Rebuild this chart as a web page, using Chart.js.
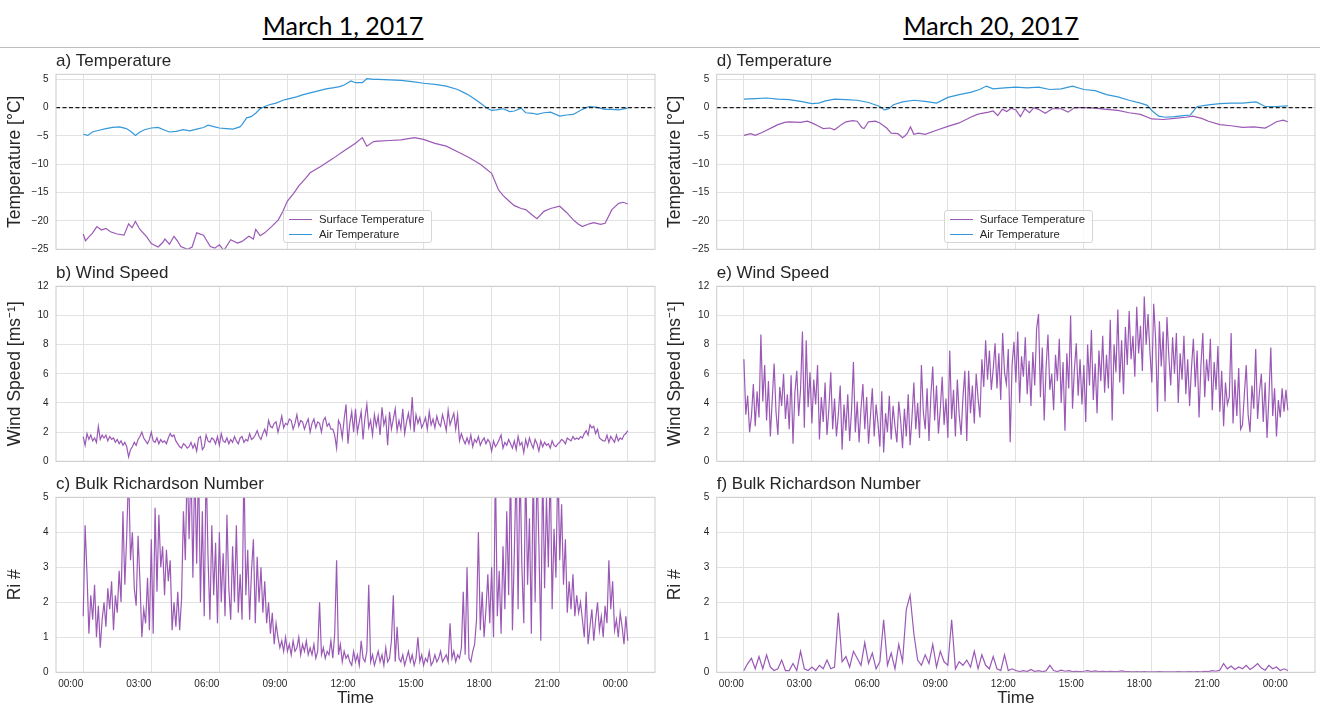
<!DOCTYPE html>
<html>
<head>
<meta charset="utf-8">
<script src="https://cdn.jsdelivr.net/npm/chart.js@4.4.1/dist/chart.umd.min.js"></script>
<style>
  body { margin: 0; background: #fff; width: 1320px; height: 714px; position: relative; overflow: hidden; }
  .head { position: absolute; top: 13px; width: 400px; text-align: center; font-family: Lato, "Open Sans", sans-serif;
          font-size: 25px; line-height: 25px; color: #000; text-decoration: underline; text-decoration-thickness: 1.5px; text-underline-offset: 3px; }
  .rule { position: absolute; left: 0; top: 47px; width: 1320px; border-top: 1px solid #bdbdbd; }
  .panel { position: absolute; width: 660px; }
  .legend { position: absolute; width: 147px; height: 31px; border: 1px solid #d6d6d6; border-radius: 3px;
            background: rgba(255,255,255,0.8); font-family: "Liberation Sans", Arial, sans-serif; font-size: 11.3px; color: #262626; z-index: 5; }
  .legend .item { position: absolute; left: 35px; line-height: 13px; white-space: nowrap; }
  .legend .swatch { position: absolute; left: -30px; top: 6px; width: 23px; border-top: 1.5px solid; }
</style>
</head>
<body>
<div class="head" style="left:143px">March 1, 2017</div>
<div class="head" style="left:791px">March 20, 2017</div>
<div class="rule"></div>

<div class="panel" style="left:0;top:48px;height:215.3px"><canvas id="pa"></canvas></div>
<div class="panel" style="left:0;top:259.5px;height:215.3px"><canvas id="pb"></canvas></div>
<div class="panel" style="left:0;top:471px;height:243px"><canvas id="pc"></canvas></div>
<div class="panel" style="left:660px;top:48px;height:215.3px"><canvas id="pd"></canvas></div>
<div class="panel" style="left:660px;top:259.5px;height:215.3px"><canvas id="pe"></canvas></div>
<div class="panel" style="left:660px;top:471px;height:243px"><canvas id="pf"></canvas></div>

<div class="legend" style="left:283px;top:210px">
  <div class="item" style="top:1.8px"><span class="swatch" style="border-color:#9b59b6"></span>Surface Temperature</div>
  <div class="item" style="top:16.8px"><span class="swatch" style="border-color:#3498db"></span>Air Temperature</div>
</div>
<div class="legend" style="left:943.7px;top:210px">
  <div class="item" style="top:1.8px"><span class="swatch" style="border-color:#9b59b6"></span>Surface Temperature</div>
  <div class="item" style="top:16.8px"><span class="swatch" style="border-color:#3498db"></span>Air Temperature</div>
</div>

<script>
// axis ticks (hours since midnight)
const tickHours = [0, 3, 6, 9, 12, 15, 18, 21, 24];
const tickLabels = ['00:00', '03:00', '06:00', '09:00', '12:00', '15:00', '18:00', '21:00', '00:00'];
const tempTicks = [-25, -20, -15, -10, -5, 0, 5];
const windTicks = [0, 2, 4, 6, 8, 10, 12];
const riTicks = [0, 1, 2, 3, 4, 5];

// March 1 temperatures
const surfMar1Hours = [0,0.1,0.25,0.4,0.6,0.8,1.0,1.2,1.5,1.8,2.0,2.15,2.3,2.5,2.8,3.0,3.3,3.5,3.6,3.8,4.0,4.15,4.3,4.6,4.8,5.0,5.3,5.6,5.8,6.0,6.2,6.5,6.8,7.0,7.3,7.5,7.6,7.8,8.0,8.3,8.6,8.8,9.0,9.3,9.5,9.8,10.0,10.5,11.0,11.5,12.0,12.3,12.5,12.8,13.0,13.5,14.0,14.6,15.0,15.5,16.0,16.5,17.0,17.5,18.0,18.3,18.5,18.8,19.0,19.3,19.5,19.8,20.0,20.3,20.6,21.0,21.3,21.6,21.8,22.0,22.3,22.5,22.8,23.0,23.3,23.6,23.8,24.0];
const surfMar1 = [-22.3,-23.5,-22.8,-22.2,-21.0,-21.6,-21.3,-21.9,-22.3,-22.5,-20.5,-21.2,-20.1,-21.5,-22.8,-24.0,-24.6,-23.8,-23.2,-24.1,-22.7,-23.5,-24.5,-25.0,-24.6,-22.1,-22.5,-24.5,-24.8,-24.2,-25.2,-23.3,-23.9,-23.6,-22.7,-23.2,-21.5,-22.6,-22.1,-21.0,-19.8,-18.3,-16.5,-15.0,-13.8,-12.5,-11.5,-10.3,-9.0,-7.6,-6.3,-5.3,-6.8,-6.0,-5.9,-5.8,-5.7,-5.3,-5.6,-6.3,-6.8,-7.8,-8.8,-10.0,-11.6,-14.5,-15.5,-16.6,-17.3,-17.8,-18.0,-19.0,-19.6,-18.3,-17.8,-17.4,-18.5,-19.8,-20.5,-21.0,-20.5,-20.3,-20.6,-20.4,-18.0,-16.9,-16.7,-17.0];
const airMar1Hours = [0,0.2,0.4,0.7,1.0,1.3,1.6,1.9,2.1,2.3,2.5,2.7,3.0,3.3,3.6,3.8,4.1,4.4,4.7,5.0,5.3,5.5,5.8,6.0,6.3,6.6,6.9,7.0,7.2,7.4,7.6,7.8,8.0,8.2,8.5,8.8,9.0,9.4,9.7,10.0,10.4,10.7,11.0,11.3,11.5,11.8,12.0,12.3,12.5,12.8,13.0,13.5,14.0,14.5,15.0,15.5,16.0,16.5,16.8,17.0,17.3,17.5,17.8,18.0,18.2,18.5,18.8,19.0,19.3,19.5,19.8,20.0,20.3,20.6,21.0,21.3,21.6,22.0,22.3,22.6,23.0,23.3,23.6,24.0];
const airMar1 = [-4.7,-4.9,-4.3,-4.0,-3.7,-3.5,-3.4,-3.7,-4.2,-4.9,-4.3,-3.9,-3.6,-3.5,-4.0,-4.3,-4.2,-3.9,-4.1,-3.8,-3.5,-3.1,-3.4,-3.6,-3.7,-3.8,-3.4,-3.0,-1.8,-1.6,-1.0,-0.2,0.2,0.5,0.8,1.3,1.5,1.9,2.3,2.6,3.0,3.3,3.5,3.7,4.0,4.7,4.4,4.4,5.1,5.0,5.0,4.9,4.8,4.6,4.3,4.1,3.8,3.2,2.6,2.2,1.4,0.8,-0.1,-0.5,-0.4,-0.2,-0.7,-0.6,-0.1,-0.9,-1.0,-1.2,-0.9,-0.8,-1.5,-1.3,-1.2,-0.3,0.2,0.1,-0.3,-0.3,-0.4,-0.1];

// March 20 temperatures
const surfMar20Hours = [0,0.3,0.5,0.8,1.0,1.3,1.5,1.8,2.0,2.5,2.8,3.0,3.3,3.5,3.8,4.0,4.3,4.5,4.8,5.0,5.2,5.3,5.5,5.8,6.0,6.3,6.5,6.8,7.0,7.1,7.2,7.35,7.5,7.7,8.0,8.5,9.0,9.5,10.0,10.3,10.5,10.8,11.0,11.2,11.4,11.6,11.8,12.0,12.2,12.4,12.6,12.8,13.0,13.3,13.6,14.0,14.3,14.6,15.0,15.5,16.0,16.5,17.0,17.5,18.0,18.5,19.0,19.5,19.8,20.2,20.5,21.0,21.5,22.0,22.5,23.0,23.2,23.5,23.8,24.0];
const surfMar20 = [-4.9,-4.6,-4.9,-4.4,-4.0,-3.4,-3.0,-2.6,-2.5,-2.6,-2.4,-2.7,-3.3,-3.7,-3.6,-3.9,-3.0,-2.5,-2.3,-2.4,-3.5,-3.7,-2.5,-2.4,-2.7,-3.6,-4.5,-4.6,-5.3,-5.0,-4.6,-3.4,-4.7,-4.5,-4.7,-4.0,-3.3,-2.7,-1.7,-1.2,-1.0,-0.8,-0.6,-1.4,-0.3,-0.7,-0.1,-0.4,-1.6,-0.2,-0.9,0.0,-0.3,-1.0,-0.2,-0.2,-0.8,0.0,0.0,-0.1,-0.3,-0.5,-0.9,-1.2,-2.0,-2.1,-1.9,-1.7,-1.5,-1.9,-2.4,-3.0,-3.2,-3.5,-3.4,-3.6,-3.2,-2.5,-2.2,-2.5];
const airMar20Hours = [0,0.5,1.0,1.5,2.0,2.5,3.0,3.3,3.6,4.0,4.5,5.0,5.5,6.0,6.2,6.4,6.6,7.0,7.5,8.0,8.5,9.0,9.5,10.0,10.4,10.7,11.0,11.5,12.0,12.5,13.0,13.5,14.0,14.5,15.0,15.5,16.0,16.5,17.0,17.5,17.8,18.0,18.3,18.6,19.0,19.4,19.7,20.0,20.5,21.0,21.5,22.0,22.6,23.0,23.5,24.0];
const airMar20 = [1.5,1.6,1.7,1.5,1.4,1.1,0.7,0.8,1.2,1.5,1.4,1.3,0.9,0.2,-0.4,-0.2,0.5,1.0,1.3,1.1,0.8,1.8,2.3,2.7,3.2,3.8,3.3,3.5,3.6,3.5,3.6,3.2,3.3,3.8,3.2,3.0,2.3,1.9,1.3,0.8,0.4,-0.5,-1.5,-1.7,-1.6,-1.4,-1.3,0.2,0.5,0.7,0.8,0.8,1.0,0.2,0.2,0.3];

// wind speed, March 1 (5-min samples)
const windMar1 = [
  1.7,1.1,1.9,1.5,1.8,1.4,1.6,1.3,2.4,1.5,1.8,1.6,
  1.8,1.4,1.7,1.5,1.6,1.3,1.5,1.2,1.4,1.1,1.3,1.0,
  0.3,0.8,1.0,1.3,1.1,1.5,1.7,2.0,1.6,1.4,1.2,1.5,
  2.0,1.4,1.3,1.6,1.2,1.5,1.3,1.4,1.2,1.6,1.9,1.7,
  1.8,1.4,1.2,1.0,0.9,1.2,1.1,0.9,1.0,1.3,0.9,1.2,
  0.7,1.6,1.7,0.8,1.0,1.8,1.4,1.3,1.6,1.5,1.2,1.7,
  1.1,1.9,1.4,1.3,1.6,1.2,1.5,1.3,1.7,1.4,1.2,1.6,
  1.7,1.3,1.5,1.4,1.9,1.5,1.6,1.8,2.1,1.7,1.5,1.9,
  2.2,1.8,2.8,2.4,2.3,2.6,2.7,2.0,2.5,3.1,2.3,2.6,
  2.5,2.9,2.8,2.2,2.6,3.2,2.4,2.8,2.7,2.2,2.6,2.9,
  2.0,2.6,2.9,2.3,2.7,2.6,2.0,2.8,3.0,2.4,2.6,2.2,
  2.2,1.8,0.9,2.8,2.5,1.6,2.9,3.9,1.2,2.6,3.4,2.0,
  3.6,2.0,2.7,3.4,1.5,3.0,3.9,2.3,2.8,1.8,3.2,2.4,
  3.1,1.8,3.7,2.5,3.0,1.1,3.4,2.2,2.9,3.6,2.1,2.8,
  2.2,3.6,1.9,2.7,3.3,2.4,4.4,2.0,3.2,2.6,3.0,2.3,
  2.6,3.0,2.2,3.4,2.5,2.9,2.3,3.1,2.6,2.4,3.2,2.7,
  2.1,3.5,2.5,2.9,3.3,2.2,3.2,1.4,1.9,1.5,1.2,1.6,
  1.2,1.8,1.0,1.5,1.3,1.7,1.1,1.4,1.6,1.2,1.5,1.3,
  0.7,1.4,1.0,1.2,1.5,1.8,0.9,1.3,1.1,1.5,1.2,0.9,
  1.4,0.8,1.7,1.1,1.3,0.6,1.5,1.0,1.6,1.2,0.9,1.5,
  1.2,0.7,1.4,1.0,1.3,1.1,1.2,0.9,1.4,1.1,1.0,1.2,
  1.3,1.5,1.4,1.2,1.6,1.5,1.4,1.7,1.5,1.6,1.5,1.7,
  1.6,1.9,2.1,1.8,2.5,2.3,2.4,1.9,2.2,1.6,1.5,1.4,
  1.4,1.8,1.3,1.7,1.5,1.3,1.8,1.4,1.6,1.5,1.8,1.9,
  2.1];

// wind speed, March 20 (5-min samples)
const windMar20 = [
  7.0,3.2,4.5,2.0,3.1,5.3,2.4,4.8,3.0,8.7,4.1,6.6,
  2.8,5.5,1.7,4.2,6.7,3.4,1.8,5.1,3.8,6.0,2.9,4.6,
  2.2,5.9,1.2,4.7,6.2,3.1,4.9,8.9,2.3,8.3,3.7,6.1,
  2.6,5.6,3.9,6.6,1.5,4.4,2.7,5.4,1.8,3.6,6.1,2.2,
  4.3,1.7,3.2,5.2,0.8,3.9,2.1,4.6,1.4,3.5,6.8,2.0,
  4.1,1.3,3.6,5.3,2.2,4.4,1.2,3.1,5.0,1.7,3.9,2.6,
  1.0,4.8,0.6,3.3,2.0,4.5,1.5,3.8,2.4,1.3,4.1,2.8,
  0.9,3.6,1.7,4.6,1.1,3.0,5.4,2.2,4.0,1.6,6.6,3.4,
  2.2,5.0,1.4,4.5,6.5,2.8,5.2,1.9,3.6,5.8,2.5,4.3,
  1.6,7.6,2.9,4.9,1.7,5.6,3.2,1.8,4.4,6.2,1.4,6.2,
  3.3,5.2,2.6,6.0,4.3,3.0,7.0,5.1,8.3,5.6,7.6,4.9,
  6.3,8.1,5.0,7.4,4.2,8.8,6.1,5.3,7.7,1.3,6.6,8.2,
  5.4,8.9,4.0,7.2,5.8,8.5,4.6,6.9,3.8,7.5,5.2,9.1,
  10.1,4.4,7.8,2.8,6.4,8.7,4.9,6.0,3.5,7.3,5.5,8.4,
  4.0,6.8,2.1,7.4,5.0,10.0,3.6,6.3,8.1,4.5,7.0,3.9,
  6.6,2.7,8.0,5.2,9.0,4.2,6.7,3.3,7.6,5.5,8.6,4.7,
  7.3,5.0,9.7,2.8,8.0,6.1,10.4,5.4,8.3,4.6,9.2,6.6,
  10.3,7.0,8.6,5.8,10.6,7.4,9.3,6.2,11.3,8.0,10.1,7.5,
  5.4,10.8,8.4,3.4,9.6,6.5,8.9,4.1,9.9,7.2,5.2,8.5,
  6.0,8.8,4.0,7.4,5.6,8.6,4.6,7.0,3.8,6.4,8.4,5.1,
  7.6,3.0,6.6,8.8,4.4,7.0,5.5,8.4,3.5,6.8,4.9,7.9,
  3.4,6.2,2.4,5.4,3.9,4.4,8.8,2.6,5.6,3.1,6.4,2.2,
  2.5,4.6,6.6,3.2,2.0,5.2,3.6,7.7,2.9,4.8,6.0,2.7,
  5.4,1.6,4.4,7.8,3.1,5.0,1.7,4.2,3.0,5.0,3.4,4.9,
  3.5];

// bulk Richardson number, March 1 (5-min samples, values above 5 run off the top)
const riMar1 = [
  1.6,4.2,2.8,1.1,2.2,1.5,2.5,1.0,1.9,0.7,1.5,2.0,
  1.3,2.4,1.8,2.6,1.2,2.2,1.7,2.9,2.0,4.6,2.5,3.9,
  5.8,3.2,4.0,2.4,1.9,3.9,2.6,1.0,1.8,1.4,2.7,1.2,
  3.8,1.1,4.7,2.3,4.5,3.0,3.6,2.2,3.5,2.6,3.2,1.2,
  2.0,1.3,2.3,1.2,2.1,4.6,3.2,6.0,3.8,6.0,2.7,6.0,
  3.1,6.0,2.0,4.6,1.6,6.0,3.3,1.5,4.2,2.2,3.7,1.4,
  4.0,2.0,3.4,1.6,4.5,2.4,1.5,3.6,2.0,4.2,1.7,2.8,
  1.5,6.0,2.2,3.5,1.5,2.9,3.8,1.4,3.3,2.0,3.0,1.7,
  2.6,1.4,2.0,1.1,1.7,0.8,1.4,1.0,0.7,0.9,0.6,1.0,
  0.6,0.8,0.5,0.9,0.6,0.7,1.0,0.5,0.8,0.6,0.9,0.5,
  0.7,0.5,0.8,0.4,0.6,2.0,0.5,0.7,0.4,0.6,0.5,0.9,
  0.4,1.1,3.2,0.5,0.8,0.3,0.6,0.4,0.5,0.3,0.2,0.6,
  0.3,0.5,0.2,0.9,0.4,0.3,0.6,2.5,0.3,0.5,0.2,0.4,
  0.6,0.3,0.5,0.2,0.7,0.3,0.4,0.9,2.2,0.3,1.3,0.4,
  0.3,0.5,0.2,0.4,0.6,0.3,0.5,0.2,0.4,1.0,0.3,0.5,
  0.2,0.4,0.3,0.6,0.2,0.3,0.5,0.3,0.4,0.6,0.3,0.4,
  0.5,0.3,1.4,0.4,0.6,0.3,0.5,0.4,0.7,2.3,0.5,3.0,
  0.4,0.3,0.6,0.8,1.5,4.0,1.2,2.3,1.0,1.8,2.8,1.4,
  3.0,1.0,5.9,1.6,2.9,1.1,3.6,1.8,4.6,2.2,6.0,1.2,
  3.4,6.0,1.8,6.0,3.0,1.4,6.0,2.5,4.4,1.1,6.0,2.0,
  6.0,3.6,0.9,6.0,2.4,5.0,3.0,6.0,1.8,4.1,2.7,6.0,
  3.2,4.8,2.5,3.8,1.7,2.6,1.8,2.8,1.6,2.2,1.7,2.0,
  1.5,1.0,2.3,0.8,1.3,1.8,0.9,1.5,2.0,1.2,1.6,1.0,
  1.9,1.4,3.2,1.8,2.6,1.2,1.5,1.0,1.7,1.3,0.8,1.6,
  0.9];

// bulk Richardson number, March 20 (10-min samples)
const riMar20 = [
  0.05,0.25,0.4,0.1,0.45,0.1, 0.5,0.15,0.05,0.1,0.35,0.05, 0.05,0.25,0.05,0.6,0.1,0.05, 0.15,0.05,0.2,0.1,0.35,0.1,
  0.15,1.7,0.3,0.45,0.15,0.6, 0.4,0.2,0.85,0.25,0.55,0.1, 0.3,1.5,0.2,0.55,0.1,0.8, 0.3,1.8,2.2,1.1,0.35,0.2,
  0.5,0.25,0.8,0.15,0.6,0.3, 0.2,1.5,0.1,0.3,0.2,0.35, 0.15,0.6,0.1,0.5,0.2,0.1, 0.45,0.1,0.05,0.5,0.05,0.1,
  0.05,0.02,0.05,0.02,0.08,0.02, 0.05,0.02,0.04,0.2,0.05,0.02, 0.06,0.03,0.05,0.02,0.03,0.02, 0.03,0.05,0.02,0.04,0.02,0.03,
  0.02,0.03,0.02,0.02,0.04,0.02, 0.02,0.01,0.02,0.01,0.02,0.01, 0.01,0.01,0.02,0.01,0.01,0.01, 0.01,0.02,0.01,0.01,0.02,0.01,
  0.02,0.01,0.03,0.02,0.05,0.03, 0.06,0.25,0.1,0.18,0.08,0.15, 0.1,0.2,0.08,0.15,0.25,0.12, 0.06,0.2,0.1,0.15,0.05,0.1,
  0.05];

const xMin = -1.2, xMax = 25.2;
const PURPLE = '#9b59b6', BLUE = '#3498db';
const FONT = '"Liberation Sans", Arial, sans-serif';
const TXT = '#262626', GRID = '#e2e2e2', EDGE = '#cccccc';

function stepHours(n, minutes) {
  return Array.from({length: n}, (_, i) => i * minutes / 60);
}
function pairs(hours, vals) {
  return vals.map((v, i) => ({x: hours[i], y: v}));
}
function line(data, color) {
  return {data, borderColor: color, borderWidth: 1.2, pointRadius: 0, tension: 0, fill: false};
}
function zeroLine() {
  return {data: [{x: xMin, y: 0}, {x: xMax, y: 0}], borderColor: '#1a1a1a', borderWidth: 1.3,
          borderDash: [4, 2.5], pointRadius: 0, fill: false};
}

// light grey box round each plot area
const frame = {
  id: 'frame',
  afterDraw(chart) {
    const a = chart.chartArea, ctx = chart.ctx;
    ctx.save();
    ctx.strokeStyle = EDGE;
    ctx.lineWidth = 1;
    ctx.strokeRect(a.left, a.top, a.right - a.left, a.bottom - a.top);
    ctx.restore();
  }
};

function panel(id, title, yTitle, yTicks, yMin, yMax, datasets, showX, yWidth) {
  new Chart(document.getElementById(id), {
    type: 'line',
    data: {datasets},
    plugins: [frame],
    options: {
      responsive: true,
      maintainAspectRatio: false,
      animation: false,
      events: [],
      layout: {padding: {left: 0, right: 5, top: 0, bottom: 0}},
      plugins: {
        legend: {display: false},
        tooltip: {enabled: false},
        title: {display: true, text: title, align: 'start', fullSize: false, color: TXT,
                font: {family: FONT, size: 17, weight: 'normal'}, padding: {top: 3.3, bottom: 2.6}}
      },
      scales: {
        x: {
          type: 'linear', min: xMin, max: xMax,
          afterBuildTicks: s => { s.ticks = tickHours.map(v => ({value: v})); },
          afterFit: s => { s.height = showX ? 41.7 : 14; },
          grid: {color: GRID, drawTicks: false},
          border: {display: false},
          ticks: {display: showX, align: 'end', maxRotation: 0, minRotation: 0, autoSkip: false, padding: 6,
                  color: TXT, font: {family: FONT, size: 10}, callback: (v, i) => tickLabels[i]},
          title: {display: showX, text: 'Time', color: TXT, font: {family: FONT, size: 17}, padding: {top: 0, bottom: 5.8}}
        },
        y: {
          min: yMin, max: yMax,
          afterBuildTicks: s => { s.ticks = yTicks.map(v => ({value: v})); },
          afterFit: s => { s.width = yWidth; },
          grid: {color: GRID, drawTicks: false},
          border: {display: false},
          ticks: {padding: 7.5, color: TXT, font: {family: FONT, size: 10},
                  callback: v => String(v).replace('-', '\u2212')},
          title: {display: true, text: yTitle, color: TXT, font: {family: FONT, size: 17.5}, padding: {top: 4.5, bottom: 0}}
        }
      }
    }
  });
}

const h5 = stepHours(riMar1.length, 5);
const h10 = stepHours(riMar20.length, 10);

panel('pa', 'a) Temperature', 'Temperature [°C]', tempTicks, -25, 5.88,
  [zeroLine(), line(pairs(surfMar1Hours, surfMar1), PURPLE), line(pairs(airMar1Hours, airMar1), BLUE)], false, 56);
panel('pb', 'b) Wind Speed', 'Wind Speed [ms\u207B\u00B9]', windTicks, 0, 12,
  [line(pairs(h5, windMar1), PURPLE)], false, 56);
panel('pc', 'c) Bulk Richardson Number', 'Ri #', riTicks, 0, 5,
  [line(pairs(h5, riMar1), PURPLE)], true, 56);
panel('pd', 'd) Temperature', 'Temperature [°C]', tempTicks, -25, 5.88,
  [zeroLine(), line(pairs(surfMar20Hours, surfMar20), PURPLE), line(pairs(airMar20Hours, airMar20), BLUE)], false, 56.7);
panel('pe', 'e) Wind Speed', 'Wind Speed [ms\u207B\u00B9]', windTicks, 0, 12,
  [line(pairs(h5, windMar20), PURPLE)], false, 56.7);
panel('pf', 'f) Bulk Richardson Number', 'Ri #', riTicks, 0, 5,
  [line(pairs(h10, riMar20), PURPLE)], true, 56.7);
</script>
</body>
</html>
